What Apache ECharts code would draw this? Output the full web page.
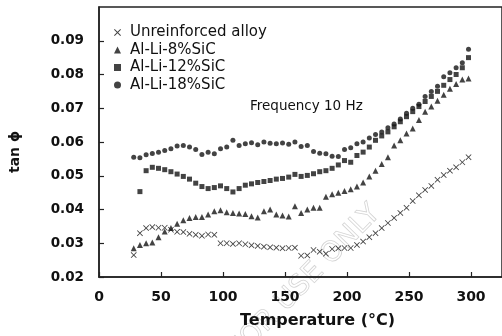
<!DOCTYPE html>
<html>
<head>
<meta charset="utf-8">
<script src="https://cdn.jsdelivr.net/npm/echarts@6/dist/echarts.min.js"></script>
<style>
  html, body { margin: 0; padding: 0; background: #fff; }
  #chart { width: 502px; height: 336px; }
</style>
</head>
<body>
<div id="chart"></div>
<script>
// temperatures (°C) shared by all series
const temps = [28, 33, 38, 43, 48, 53, 58, 63, 68, 73, 78, 83, 88, 93, 98, 103, 108, 113, 118, 123,
  128, 133, 138, 143, 148, 153, 158, 163, 168, 173, 178, 183, 188, 193, 198, 203, 208, 213, 218, 223,
  228, 233, 238, 243, 248, 253, 258, 263, 268, 273, 278, 283, 288, 293, 298]

const unreinforced = [0.0265, 0.0330, 0.0345, 0.0348, 0.0346, 0.0346, 0.0340, 0.0334, 0.0333, 0.0328,
  0.0325, 0.0322, 0.0326, 0.0325, 0.0300, 0.0300, 0.0298, 0.0300, 0.0297, 0.0294,
  0.0292, 0.0290, 0.0288, 0.0287, 0.0285, 0.0286, 0.0287, 0.0263, 0.0264, 0.0280,
  0.0275, 0.0269, 0.0283, 0.0285, 0.0286, 0.0286, 0.0295, 0.0305, 0.0318, 0.0330,
  0.0345, 0.0360, 0.0375, 0.0390, 0.0405, 0.0425, 0.0442, 0.0458, 0.0470, 0.0488,
  0.0502, 0.0515, 0.0525, 0.0540, 0.0555]

const sic8 = [0.0285, 0.0295, 0.0300, 0.0302, 0.0318, 0.0335, 0.0345, 0.0358, 0.0368, 0.0375,
  0.0378, 0.0378, 0.0385, 0.0395, 0.0398, 0.0392, 0.0390, 0.0388, 0.0387, 0.0380,
  0.0376, 0.0395, 0.0400, 0.0385, 0.0382, 0.0379, 0.0410, 0.0390, 0.0400, 0.0405,
  0.0405, 0.0438, 0.0445, 0.0450, 0.0455, 0.0460, 0.0468, 0.0480, 0.0498, 0.0515,
  0.0535, 0.0555, 0.0590, 0.0605, 0.0625, 0.0640, 0.0665, 0.0690, 0.0705, 0.0722,
  0.0740, 0.0758, 0.0772, 0.0785, 0.0788]

const sic12 = [null, 0.0453, 0.0515, 0.0525, 0.0522, 0.0518, 0.0512, 0.0505, 0.0498, 0.0490,
  0.0478, 0.0468, 0.0462, 0.0465, 0.0470, 0.0462, 0.0452, 0.0462, 0.0472, 0.0476,
  0.0480, 0.0483, 0.0486, 0.0490, 0.0492, 0.0496, 0.0504, 0.0498, 0.0501, 0.0506,
  0.0512, 0.0515, 0.0522, 0.0532, 0.0545, 0.0540, 0.0560, 0.0570, 0.0585, 0.0605,
  0.0618, 0.0630, 0.0645, 0.0660, 0.0675, 0.0690, 0.0705, 0.0720, 0.0735, 0.0750,
  0.0768, 0.0785, 0.0800, 0.0820, 0.0850]

const sic18 = [0.0555, 0.0553, 0.0562, 0.0566, 0.0570, 0.0575, 0.0580, 0.0588, 0.0590, 0.0585,
  0.0578, 0.0563, 0.0570, 0.0565, 0.0580, 0.0585, 0.0605, 0.0590, 0.0595, 0.0598,
  0.0592, 0.0600, 0.0596, 0.0595, 0.0597, 0.0593, 0.0600, 0.0587, 0.0590, 0.0572,
  0.0567, 0.0565, 0.0558, 0.0557, 0.0578, 0.0583, 0.0595, 0.0600, 0.0612, 0.0622,
  0.0630, 0.0642, 0.0653, 0.0668, 0.0685, 0.0700, 0.0712, 0.0735, 0.0750, 0.0765,
  0.0793, 0.0805, 0.0820, 0.0835, 0.0875]

const seriesNames = ['Unreinforced alloy', 'Al-Li-8%SiC', 'Al-Li-12%SiC', 'Al-Li-18%SiC']

// filled "x" marker
const crossPath = 'path://M0,1L1,0L5,4L9,0L10,1L6,5L10,9L9,10L5,6L1,10L0,9L4,5Z'

function pairs(values) {
  return temps.map((t, i) => [t, values[i]]).filter(p => p[1] != null)
}

const ink = '#141414'
const chart = echarts.init(document.getElementById('chart'), null, { renderer: 'canvas' })

chart.setOption({
  animation: false,
  backgroundColor: '#fff',
  textStyle: { fontFamily: 'DejaVu Sans' },
  grid: {
    left: 92,
    top: 7,
    right: -2,
    bottom: 59,
    show: true,
    borderColor: '#222',
    borderWidth: 1.5
  },
  legend: {
    orient: 'vertical',
    left: 109,
    top: 20,
    itemWidth: 7,
    itemHeight: 7,
    itemGap: 2.5,
    textStyle: { fontFamily: 'DejaVu Sans', fontSize: 15, color: '#111', padding: [0, 0, 0, 4] },
    data: seriesNames
  },
  xAxis: {
    type: 'value',
    min: 0,
    max: 325,
    interval: 50,
    name: 'Temperature (°C)',
    nameLocation: 'middle',
    nameGap: 36,
    nameTextStyle: {
      fontFamily: 'DejaVu Sans',
      fontWeight: 'bold',
      fontSize: 16,
      color: '#111',
      padding: [0, 0, 0, 34]
    },
    axisLine: { lineStyle: { color: '#222', width: 1.5 } },
    axisTick: { inside: true, length: 5, lineStyle: { color: '#222', width: 1.2 } },
    axisLabel: {
      showMaxLabel: false,
      margin: 13,
      fontFamily: 'DejaVu Sans',
      fontWeight: 'bold',
      fontSize: 14,
      color: '#111'
    },
    splitLine: { show: false }
  },
  yAxis: {
    type: 'value',
    min: 0.02,
    max: 0.1,
    interval: 0.01,
    name: 'tan ϕ',
    nameLocation: 'middle',
    nameRotate: 90,
    nameGap: 77,
    nameTextStyle: {
      fontFamily: 'DejaVu Sans',
      fontWeight: 'bold',
      fontSize: 14,
      color: '#111',
      padding: [0, 20, 0, 0]
    },
    axisLine: { show: true, lineStyle: { color: '#222', width: 1.5 } },
    axisTick: { show: true, inside: true, length: 5, lineStyle: { color: '#222', width: 1.2 } },
    axisLabel: {
      showMaxLabel: false,
      margin: 15,
      fontFamily: 'DejaVu Sans',
      fontWeight: 'bold',
      fontSize: 13.5,
      color: '#111',
      formatter: v => v.toFixed(2)
    },
    splitLine: { show: false }
  },
  graphic: [
    {
      type: 'text',
      left: 250,
      top: 99,
      style: { text: 'Frequency 10 Hz', font: '13.5px "DejaVu Sans"', fill: '#111' }
    },
    {
      type: 'text',
      x: 305,
      y: 282,
      rotation: 0.8,
      z: -1,
      style: {
        text: 'FOR USE ONLY',
        font: '28px "DejaVu Sans"',
        fill: 'rgba(255,255,255,0)',
        stroke: '#d4d4d4',
        lineWidth: 0.8,
        align: 'center',
        verticalAlign: 'middle'
      }
    }
  ],
  series: [
    {
      name: seriesNames[0],
      type: 'scatter',
      symbol: crossPath,
      symbolSize: 6,
      itemStyle: { color: ink },
      data: pairs(unreinforced)
    },
    {
      name: seriesNames[1],
      type: 'scatter',
      symbol: 'triangle',
      symbolSize: 6,
      itemStyle: { color: ink },
      data: pairs(sic8)
    },
    {
      name: seriesNames[2],
      type: 'scatter',
      symbol: 'rect',
      symbolSize: 5,
      itemStyle: { color: ink },
      data: pairs(sic12)
    },
    {
      name: seriesNames[3],
      type: 'scatter',
      symbol: 'circle',
      symbolSize: 5,
      itemStyle: { color: ink },
      data: pairs(sic18)
    }
  ]
})
</script>
</body>
</html>
